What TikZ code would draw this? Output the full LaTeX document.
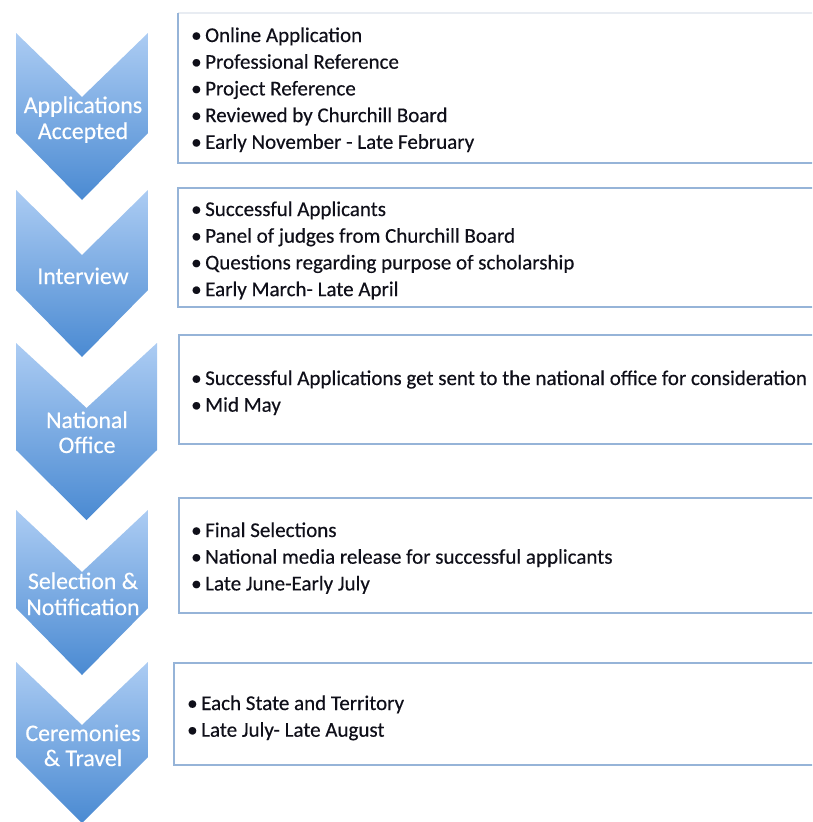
\documentclass[tikz,border=0pt]{standalone}
\usepackage{fontspec}
\setmainfont{Carlito}
\newfontfamily\heavyfont[FakeBold=0.35]{Carlito}
\definecolor{chevtop}{RGB}{172,204,243}
\definecolor{chevbot}{RGB}{74,138,210}
\definecolor{boxline}{RGB}{150,180,216}
\definecolor{boxfaint}{RGB}{232,236,242}
\definecolor{itemtext}{RGB}{15,15,25}
\tikzset{
  x=1pt, y=-1pt,
  steplabel/.style={anchor=base, text=white, inner sep=0pt,
    font=\heavyfont\fontsize{23.8}{28}\selectfont},
  item/.style={anchor=base west, text=itemtext, inner sep=0pt,
    font=\heavyfont\fontsize{21}{26.7}\selectfont},
  infobox/.style={draw=boxline, line width=1.6pt, fill=white},
}
% chevron: left x, right x, top y, notch y, side end y, tip y
\newcommand\stepchev[6]{%
  \shade[top color=chevtop, bottom color=chevbot]
    (#1,#3) -- ({(#1+#2)/2},#4) -- (#2,#3) -- (#2,#5)
    -- ({(#1+#2)/2},#6) -- (#1,#5) -- cycle;}
\newcommand\bul[1]{\makebox[14pt][l]{\textbullet}#1}
\begin{document}
\begin{tikzpicture}
\useasboundingbox (0,0) rectangle (812,822);
\clip (0,0) rectangle (812,822);
\fill[white] (0,0) rectangle (812,822);

% chevrons
\stepchev{16}{148}{33}{97}{133}{200}
\stepchev{16}{148}{190}{255}{290}{357}
\stepchev{16}{157}{343}{408}{450}{520}
\stepchev{16}{148}{510}{572}{608}{675}
\stepchev{16}{148}{662}{725}{757}{823}

% step labels
\node[steplabel] (s1a) at (83,113) {Applications};
\node[steplabel] (s1b) at (83,139) {Accepted};
\node[steplabel] (s2)  at (83,284) {Interview};
\node[steplabel] (s3a) at (87,428) {National};
\node[steplabel] (s3b) at (87,453) {Office};
\node[steplabel] (s4a) at (83,589) {Selection \&};
\node[steplabel] (s4b) at (83,615) {Notification};
\node[steplabel] (s5a) at (83,741) {Ceremonies};
\node[steplabel] (s5b) at (83,766) {\& Travel};

% info boxes (running past the right edge)
\fill[white] (178,13) rectangle (830,163);
\draw[boxfaint, line width=1.6pt] (178,13) -- (830,13);
\draw[boxline, line width=1.6pt] (830,163) -- (178,163) -- (178,13);
\draw[infobox] (830,188) -- (178,188) -- (178,307) -- (830,307);
\draw[infobox] (830,335) -- (179,335) -- (179,444) -- (830,444);
\draw[infobox] (830,498) -- (179,498) -- (179,613) -- (830,613);
\draw[infobox] (830,663) -- (174,663) -- (174,765) -- (830,765);

% box texts
\foreach \t [count=\i] in {Online Application, Professional Reference,
    Project Reference, Reviewed by Churchill Board,
    Early November - Late February}
  \node[item] (a\i) at (191,{42+(\i-1)*26.7}) {\bul{\t}};
\foreach \t [count=\i] in {Successful Applicants,
    Panel of judges from Churchill Board,
    Questions regarding purpose of scholarship,
    Early March- Late April}
  \node[item] (b\i) at (191,{216+(\i-1)*26.7}) {\bul{\t}};
\foreach \t [count=\i] in {Successful Applications get sent to the national office for consideration,
    Mid May}
  \node[item] (c\i) at (191,{385+(\i-1)*26.7}) {\bul{\t}};
\foreach \t [count=\i] in {Final Selections,
    National media release for successful applicants,
    Late June-Early July}
  \node[item] (d\i) at (191,{537+(\i-1)*26.7}) {\bul{\t}};
\foreach \t [count=\i] in {Each State and Territory, Late July- Late August}
  \node[item] (e\i) at (187,{710+(\i-1)*26.7}) {\bul{\t}};
\end{tikzpicture}
\end{document}
